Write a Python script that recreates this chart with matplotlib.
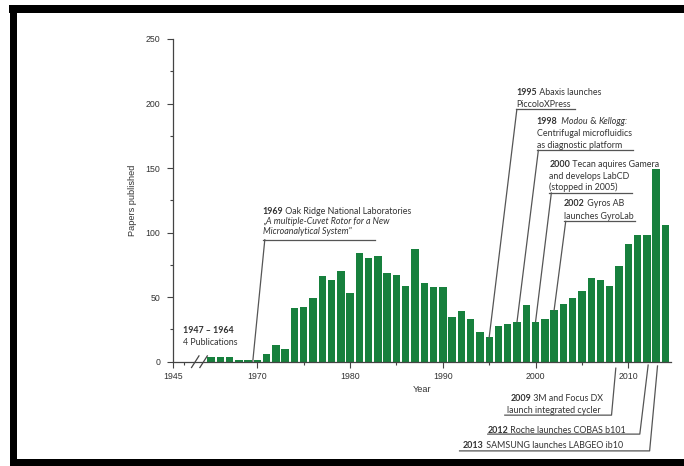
import matplotlib.pyplot as plt
from matplotlib.patches import Rectangle

years = list(range(1965, 2015))
papers = [3.5, 3.5, 3.5, 1, 1, 1, 6, 13, 10, 41.5,
          42.5, 49, 66.5, 63, 70, 53, 84, 80, 81.5, 69,
          67, 59, 87, 61, 58, 58, 34.5, 39, 33, 23,
          19, 28, 29, 31, 44, 31, 33, 40, 45, 49,
          55, 65, 63, 59, 74, 91, 98, 98, 149, 106]
xtick_pos = [1960.9, 1970, 1980, 1990, 2000, 2010]
xtick_labels = ['1945', '1970', '1980', '1990', '2000', '2010']

GREEN = '#17803d'
TXT = '#333333'
LINE = '#555555'
FS = 6.4
AFONT = ['Lato', 'DejaVu Sans']
TFONT = ['Liberation Sans', 'DejaVu Sans']

W, H = 684, 466
fig = plt.figure(figsize=(W / 100, H / 100), dpi=100)
ax = fig.add_axes([173 / W, 1 - 361.7 / H, (670.5 - 173) / W, (361.7 - 39) / H])

ax.bar(years, papers, width=0.8, color=GREEN, zorder=2)
ax.set_xlim(1960.9, 2014.55)
ax.set_ylim(0, 250)

for s in ['top', 'right']:
    ax.spines[s].set_visible(False)
for s in ['left', 'bottom']:
    ax.spines[s].set_color('#444444')
    ax.spines[s].set_linewidth(0.9)

ax.set_xticks(xtick_pos)
ax.set_xticklabels(xtick_labels, family=TFONT, fontsize=6.3, color=TXT)
ax.set_xticks([1962.1, 1975, 1985, 1995, 2005], minor=True)
ax.set_yticks(range(0, 251, 50))
ax.set_yticklabels([str(v) for v in range(0, 251, 50)], family=TFONT, fontsize=6.3, color=TXT)
ax.set_yticks(range(25, 250, 50), minor=True)
ax.tick_params(axis='both', which='major', length=4, width=0.8, color='#444444')
ax.tick_params(axis='both', which='minor', length=2.5, width=0.8, color='#444444')
ax.tick_params(axis='y', which='major', pad=5)
ax.tick_params(axis='x', which='major', pad=3.5)
ax.set_xlabel('Year', family=TFONT, fontsize=6.6, color=TXT, labelpad=3)
ax.set_ylabel('Papers published', family=TFONT, fontsize=6.6, color=TXT, labelpad=6)

# axis break marks
for bx in [1963.3, 1964.2]:
    ax.plot([bx - 0.4, bx + 0.4], [-4.5, 4.5], color='#444444', lw=0.9, clip_on=False, zorder=3)


def chain(x, y, parts):
    first = None
    t = None
    for text, weight, style in parts:
        kw = dict(fontsize=FS, family=AFONT, color=TXT, fontweight=weight, fontstyle=style)
        if t is None:
            t = ax.text(x, y, text, va='center', ha='left', **kw)
            first = t
        else:
            t = ax.annotate(text, xy=(1, 0), xycoords=t, va='bottom', ha='left', **kw)
    return first


def line(xs, ys):
    ax.plot(xs, ys, color=LINE, lw=0.9, clip_on=False, zorder=3)


# 1947-1964
chain(1961.95, 23.8, [('1947 – 1964', 'bold', 'normal')])
chain(1961.95, 14.9, [('4 Publications', 'normal', 'normal')])

# 1969
chain(1970.57, 116.5, [('1969', 'bold', 'normal'), (' Oak Ridge National Laboratories', 'normal', 'normal')])
chain(1970.57, 108.7, [('„A multiple-Cuvet Rotor for a New', 'normal', 'italic')])
chain(1970.57, 100.9, [('Microanalytical System"', 'normal', 'italic')])
line([1970.57, 1982.65], [94.5, 94.5])
line([1970.8, 1969.5], [94.5, 0])

# 1995
chain(1997.94, 208.4, [('1995', 'bold', 'normal'), (' Abaxis launches', 'normal', 'normal')])
chain(1997.94, 199.3, [('PiccoloXPress', 'normal', 'normal')])
line([1997.94, 2004.23], [195.4, 195.4])
line([1997.98, 1995], [195.4, papers[years.index(1995)]])

# 1998
chain(2000.1, 186.3, [('1998', 'bold', 'normal'), ('  Modou', 'normal', 'italic'),
                      (' & ', 'normal', 'normal'), ('Kellogg:', 'normal', 'italic')])
chain(2000.1, 176.8, [('Centrifugal microfluidics', 'normal', 'normal')])
chain(2000.1, 167.7, [('as diagnostic platform', 'normal', 'normal')])
line([2000.1, 2010.5], [163.8, 163.8])
line([2000.3, 1998], [163.8, papers[years.index(1998)]])

# 2000
chain(2001.5, 152.6, [('2000', 'bold', 'normal'), (' Tecan aquires Gamera', 'normal', 'normal')])
chain(2001.5, 143.6, [('and develops LabCD', 'normal', 'normal')])
chain(2001.5, 135.1, [('(stopped in 2005)', 'normal', 'normal')])
line([2001.5, 2010.35], [130.7, 130.7])
line([2001.7, 2000], [130.7, papers[years.index(2000)]])

# 2002
chain(2003.07, 122.4, [('2002', 'bold', 'normal'), (' Gyros AB', 'normal', 'normal')])
chain(2003.07, 112.6, [('launches GyroLab', 'normal', 'normal')])
line([2003.07, 2010.7], [108.7, 108.7])
line([2003.25, 2002], [108.7, papers[years.index(2002)]])

# 2009
chain(1997.32, -28.4, [('2009', 'bold', 'normal'), (' 3M and Focus DX', 'normal', 'normal')])
chain(1996.9, -37.5, [('launch integrated cycler', 'normal', 'normal')])
line([1996.68, 2008.19, 2008.65], [-41.4, -41.4, -5])

# 2012
chain(1994.84, -53.0, [('2012', 'bold', 'normal'), (' Roche launches COBAS b101', 'normal', 'normal')])
line([1994.84, 2011.24, 2012.14], [-56.1, -56.1, -2.6])

# 2013
chain(1992.15, -64.7, [('2013', 'bold', 'normal'), (' SAMSUNG launches LABGEO ib10', 'normal', 'normal')])
line([1991.8, 2012.3, 2013.15], [-69.1, -69.1, -3.3])

# black frame around the picture
for x0, y0, x1, y1 in [(9, 5, 684, 13), (10, 5, 17, 466), (10, 459, 684, 466)]:
    fig.add_artist(Rectangle((x0 / W, 1 - y1 / H), (x1 - x0) / W, (y1 - y0) / H,
                             transform=fig.transFigure, color='black', lw=0))

fig.savefig('out.png', dpi=100)
